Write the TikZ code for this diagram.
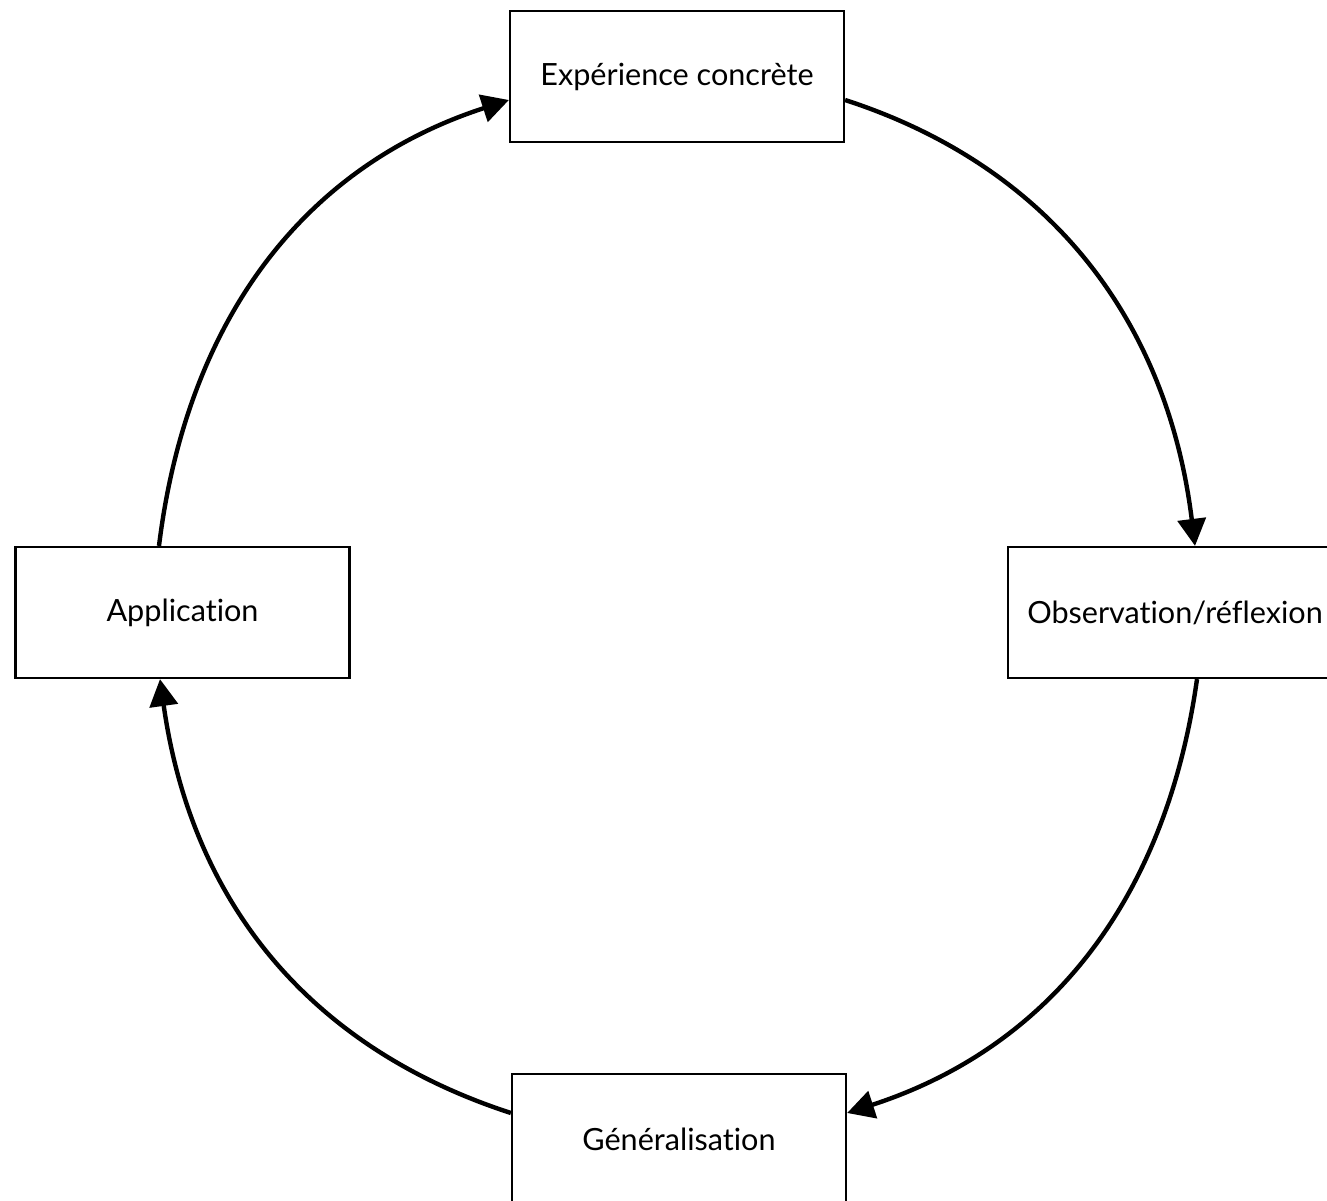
\documentclass[tikz,border=0pt]{standalone}
\usepackage{fontspec}
\setmainfont[Ligatures=NoCommon]{Lato}
\usetikzlibrary{arrows.meta,calc}
\begin{document}
\begin{tikzpicture}[x=0.5pt,y=0.5pt,
  stage/.style={draw=black,line width=1.1pt,fill=white,minimum width=167pt,minimum height=65.5pt,inner sep=0pt,font=\fontsize{15.3}{17}\selectfont},
  cyc/.style={line width=2.2pt,-{Triangle[length=13.5pt,width=14pt]}}]
\useasboundingbox (0,0) rectangle (1327,1200);
\node[stage] (top) at (677,1123.5) {Expérience concrète};
\node[stage] (right) at (1175,587.5) {Observation/réflexion};
\node[stage] (left) at (182.5,587.5) {Application};
\node[stage] (bottom) at (679,60.5) {Généralisation};
\draw[cyc] ($(top.east)+(0,-23.5)$) to[out=-18,in=97] ($(right.north)+(20,0)$);
\draw[cyc] ($(right.south)+(22,0)$) to[out=-98,in=18] ($(bottom.east)+(0,26.5)$);
\draw[cyc] ($(bottom.west)+(0,26.5)$) to[out=162,in=-82] ($(left.south)+(-22.5,0)$);
\draw[cyc] ($(left.north)+(-23.5,0)$) to[out=83,in=198] ($(top.west)+(0,-23.5)$);
\end{tikzpicture}
\end{document}
